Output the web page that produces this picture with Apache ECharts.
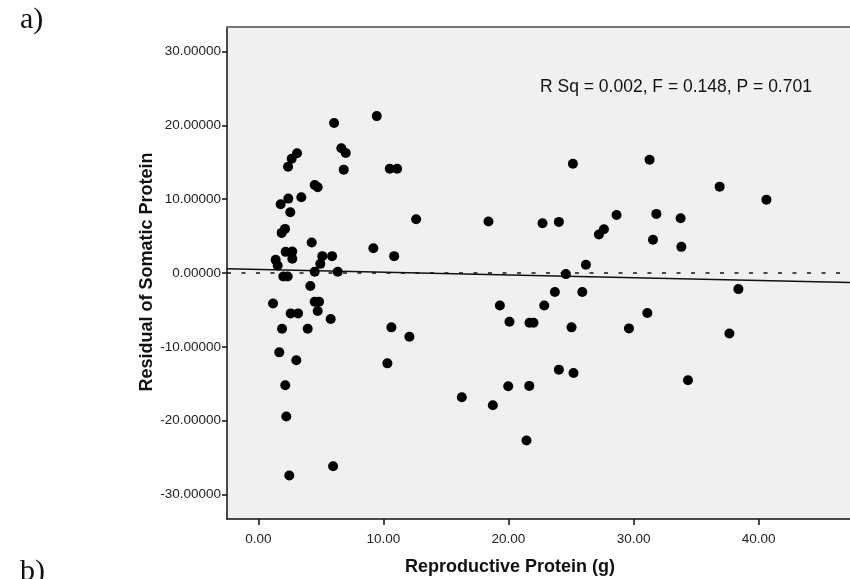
<!DOCTYPE html>
<html>
<head>
<meta charset="utf-8">
<script src="https://cdn.jsdelivr.net/npm/echarts@6/dist/echarts.min.js"></script>
<style>
  html, body { margin: 0; padding: 0; background: #fff; }
  #chart { width: 850px; height: 579px; }
</style>
</head>
<body>
<div id="chart"></div>
<script>
// reproductive protein (g) per individual
var reproProtein = [
    6.06, 9.47, 6.64, 6.99, 6.83, 3.10, 2.67, 2.38, 10.51, 11.10,
    4.51, 4.75, 2.40, 3.44, 1.79, 2.56, 12.62, 2.14, 1.87, 4.27,
    9.20, 2.19, 2.72, 2.72, 5.12, 5.90, 10.86, 1.39, 1.55, 4.96,
    4.51, 6.35, 2.00, 2.35, 4.16, 1.18, 4.51, 4.86, 2.59, 3.18,
    4.75, 5.79, 1.90, 3.95, 10.64, 12.08, 1.68, 3.04, 10.32, 2.16,
    2.24, 5.98, 2.48, 25.15, 18.40, 22.72, 24.03, 28.64, 27.63, 27.23,
    26.19, 24.59, 23.71, 25.90, 19.31, 22.86, 20.08, 21.68, 22.00, 25.04,
    24.03, 25.20, 19.98, 21.66, 16.27, 18.75, 21.44, 31.28, 36.88, 40.62,
    31.82, 33.76, 31.55, 33.82, 38.38, 31.10, 29.63, 37.66, 34.35
];
// residual of somatic protein, same order
var somaticResid = [
    20.30, 21.24, 16.88, 16.24, 13.99, 16.20, 15.47, 14.39, 14.12, 14.12,
    11.92, 11.61, 10.07, 10.26, 9.31, 8.23, 7.28, 5.97, 5.43, 4.12,
    3.36, 2.86, 2.91, 1.92, 2.28, 2.28, 2.28, 1.78, 1.01, 1.24,
    0.16, 0.16, -0.47, -0.47, -1.77, -4.12, -3.89, -3.89, -5.47, -5.47,
    -5.15, -6.23, -7.54, -7.54, -7.36, -8.62, -10.74, -11.82, -12.23, -15.20,
    -19.43, -26.15, -27.41, 14.80, 6.96, 6.74, 6.92, 7.86, 5.93, 5.20,
    1.11, -0.15, -2.58, -2.58, -4.39, -4.39, -6.59, -6.73, -6.73, -7.36,
    -13.08, -13.53, -15.34, -15.28, -16.82, -17.91, -22.68, 15.34, 11.69, 9.93,
    8.00, 7.42, 4.49, 3.54, -2.18, -5.42, -7.50, -8.18, -14.53
];

var xTicks = [0, 10, 20, 30, 40];
var yTicks = [-30, -20, -10, 0, 10, 20, 30];
var xRange = [-2.5, 47.3];
var yRange = [-33.3, 33.3];

// linear fit line
var fitIntercept = 0.48;
var fitSlope = -0.037;

var statsText = 'R Sq = 0.002, F = 0.148, P = 0.701';

var points = [], i;
for (i = 0; i < reproProtein.length; i++) {
    points.push([reproProtein[i], somaticResid[i]]);
}
var fitLine = [
    [xRange[0], fitIntercept + fitSlope * xRange[0]],
    [xRange[1], fitIntercept + fitSlope * xRange[1]]
];

var sans = '"Liberation Sans", Arial, sans-serif';
var serif = '"Liberation Serif", "Times New Roman", serif';

var myChart = echarts.init(document.getElementById('chart'));

var option = {
    animation: false,
    backgroundColor: '#ffffff',
    grid: {
        left: 227, top: 27, right: 0, bottom: 60,
        show: true,
        backgroundColor: '#f0f0f0',
        borderWidth: 0
    },
    xAxis: [{
        type: 'value',
        min: xRange[0],
        max: xRange[1],
        position: 'bottom',
        splitLine: { show: false },
        axisLine: { show: true, onZero: false, lineStyle: { color: '#111', width: 1.5 } },
        axisTick: { show: true, length: 6, customValues: xTicks, lineStyle: { color: '#111', width: 1.5 } },
        axisLabel: {
            customValues: xTicks,
            margin: 13,
            color: '#222',
            fontFamily: sans,
            fontSize: 13.5,
            formatter: function (v) { return v.toFixed(2); }
        }
    }, {
        type: 'value',
        min: xRange[0],
        max: xRange[1],
        position: 'top',
        splitLine: { show: false },
        axisLine: { show: true, onZero: false, lineStyle: { color: '#777', width: 2 } },
        axisTick: { show: false },
        axisLabel: { show: false }
    }],
    yAxis: {
        type: 'value',
        min: yRange[0],
        max: yRange[1],
        splitLine: { show: false },
        axisLine: { show: true, onZero: false, lineStyle: { color: '#111', width: 1.5 } },
        axisTick: { show: true, length: 5, customValues: yTicks, lineStyle: { color: '#111', width: 1.5 } },
        axisLabel: {
            customValues: yTicks,
            margin: 6,
            color: '#222',
            fontFamily: sans,
            fontSize: 13.5,
            formatter: function (v) { return v.toFixed(5); }
        }
    },
    series: [{
        type: 'line',
        data: fitLine,
        symbol: 'none',
        silent: true,
        lineStyle: { color: '#111', width: 1.5 },
        markLine: {
            silent: true,
            symbol: 'none',
            label: { show: false },
            lineStyle: { color: '#111', width: 1.5, type: [4, 10.5] },
            data: [{ yAxis: 0 }]
        },
        z: 2
    }, {
        type: 'scatter',
        data: points,
        symbol: 'circle',
        symbolSize: 10,
        itemStyle: { color: '#000', opacity: 1 },
        z: 3
    }],
    graphic: [{
        type: 'text',
        x: 540,
        y: 87,
        style: {
            text: statsText,
            fill: '#111',
            verticalAlign: 'middle',
            font: '17.5px ' + sans
        }
    }, {
        type: 'text',
        x: 20,
        y: 20,
        style: {
            text: 'a)',
            fill: '#111',
            verticalAlign: 'middle',
            font: '30px ' + serif
        }
    }, {
        type: 'text',
        x: 20,
        y: 572,
        style: {
            text: 'b)',
            fill: '#111',
            verticalAlign: 'middle',
            font: '30px ' + serif
        }
    }, {
        type: 'text',
        x: 510,
        y: 567,
        style: {
            text: 'Reproductive Protein (g)',
            fill: '#111',
            align: 'center',
            verticalAlign: 'middle',
            font: 'bold 18px ' + sans
        }
    }, {
        type: 'text',
        x: 147,
        y: 272,
        rotation: Math.PI / 2,
        style: {
            text: 'Residual of Somatic Protein',
            fill: '#111',
            align: 'center',
            verticalAlign: 'middle',
            font: 'bold 18px ' + sans
        }
    }]
};

myChart.setOption(option);
</script>
</body>
</html>
